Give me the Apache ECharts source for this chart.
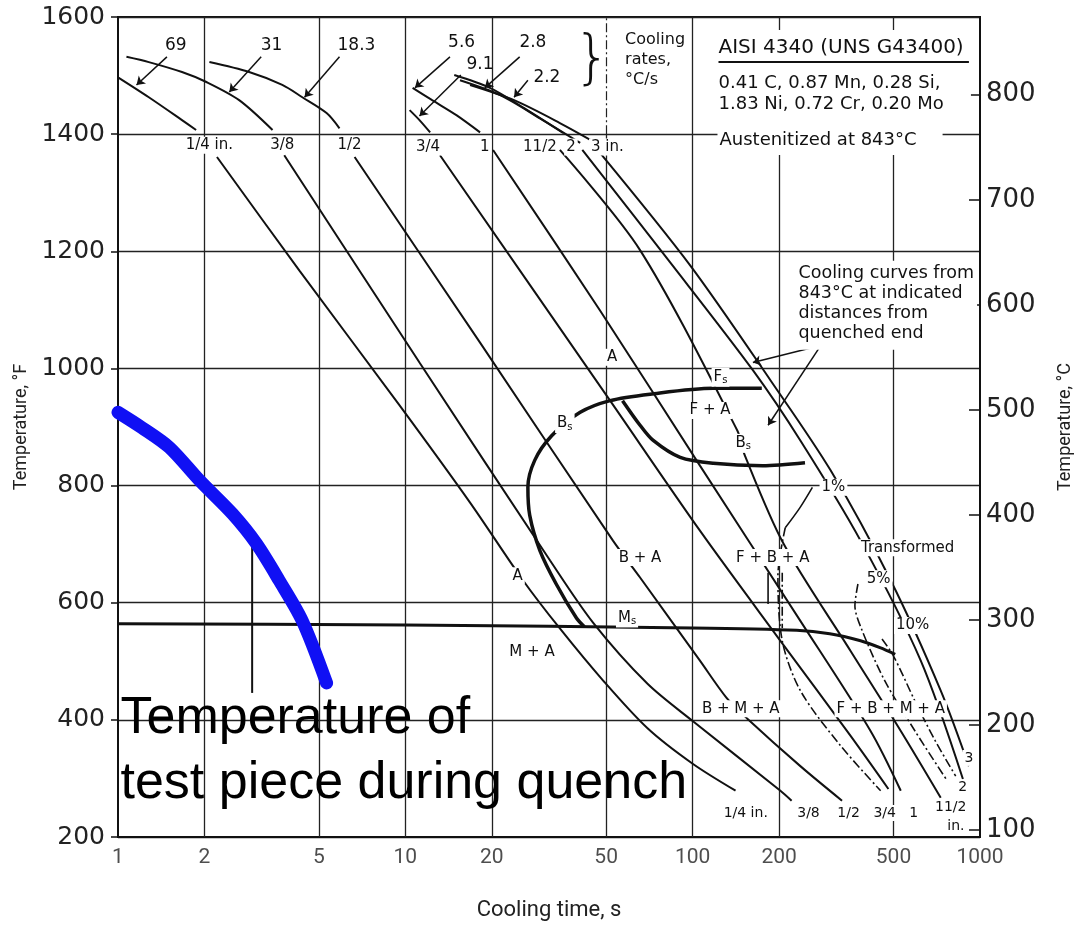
<!DOCTYPE html>
<html>
<head>
<meta charset="utf-8">
<script src="https://cdn.jsdelivr.net/npm/echarts@6.0.0/dist/echarts.min.js"></script>
<style>
html,body{margin:0;padding:0;background:#fff;}
#chart{width:1086px;height:930px;}
</style>
</head>
<body>
<div id="chart"></div>
<script>
// ===== Data (cooling time in s, temperature in °F) =====
const timeTicks = [1, 2, 5, 10, 20, 50, 100, 200, 500, 1000];
const timeGridLines = [2, 5, 10, 20, 100, 200, 500];
const celsiusTicks = [100, 200, 300, 400, 500, 600, 700, 800];

// Jominy cooling curves: upper piece (above the distance label) and lower piece
const cool_1_4_upper = [[1.0,1497],[1.28,1463],[1.67,1424],[1.87,1407]];
const cool_1_4_lower = [[2.21,1361],[4.28,1167],[9.55,937],[16.8,771],[25.7,638],[34.5,556],[48.8,467],[69.5,386],[100,325],[141,279]];
const cool_3_8_upper = [[1.07,1532],[1.28,1523],[1.67,1506],[2.03,1489],[2.64,1458],[3.45,1407]];
const cool_3_8_lower = [[3.79,1364],[11.2,1010],[31.9,672],[45,566],[69.5,462],[100,398],[202,279],[221,262]];
const cool_1_2_upper = [[2.08,1523],[2.86,1506],[3.73,1484],[4.38,1463],[5.32,1436],[5.90,1410]];
const cool_1_2_lower = [[6.66,1361],[18.2,1044],[52.8,706],[65.6,643],[106,501],[131,438],[155,402],[237,321],[331,262]];
const cool_3_4_upper = [[10.35,1441],[11.2,1424],[12.2,1403]];
const cool_3_4_lower = [[13.2,1364],[51.6,945],[106,723],[202,535],[354,373],[480,282]];
const cool_1_upper = [[10.6,1479],[12.4,1458],[15.1,1432],[18.2,1403]];
const cool_1_lower = [[20.2,1373],[47.6,1099],[106,834],[237,569],[416,381],[530,279]];
const cool_1h_upper = [[14.8,1501],[19.7,1479],[26.0,1444],[35.4,1402]];
const cool_1h_lower = [[34.5,1373],[65.6,1202],[143,894],[152,851],[207,701],[354,518],[530,381],[730,267]];
const cool_2_upper = [[15.5,1492],[21.3,1467],[29.4,1427],[40.6,1385]];
const cool_2_lower = [[41.3,1373],[83.5,1181],[162,997],[237,877],[384,706],[622,501],[872,299]];
const cool_3_upper = [[16.8,1484],[23.9,1458],[34.5,1419],[47.6,1381]];
const cool_3_lower = [[47.6,1368],[98,1176],[187,979],[302,826],[489,638],[730,450],[915,321]];

// Transformation boundaries
const fsBsCurve = [[174,966],[118,966],[71.1,956],[51.6,945],[40.6,925],[32.3,885],[28.2,843],[26.7,797],[27.1,749],[29.4,689],[33.5,632],[39.4,574],[42.0,559]];
const faLowerCurve = [[57,945],[65.6,903],[72.9,877],[90.5,848],[118,838],[175,834],[246,839]];
const msLine = [[1,564],[10,562],[100,557],[230,553],[300,547],[384,535],[451,523],[507,512]];
const onePctUpper = [[261,797],[236,762],[210,728]];
const onePctLower = [[210,728],[198,646],[205,535],[237,450],[327,356],[451,279]];
const fivePctCurve = [[376,632],[367,595],[387,555],[466,467],[594,381],[762,299]];
const tenPctCurve = [[456,538],[500,509],[594,432],[699,364],[823,304]];
const fbaPointerLeft = [[183,651],[183,598]];
const fbaPointerRight = [[205,651],[205,557]];

// Blue quench curve and its pointer
const quenchCurve = [[1.0,925],[1.21,899],[1.51,865],[1.92,809],[2.50,752],[3.03,701],[3.64,638],[4.38,569],[5.32,463]];
const quenchPointer = [[2.93,703],[2.93,446]];

// Labels: [time, temperature, text]
const rateLabels = [[1.59,1552,'69'],[3.42,1552,'31'],[6.76,1552,'18.3'],[15.7,1556,'5.6'],[27.8,1556,'2.8'],[18.2,1518,'9.1'],[31.1,1496,'2.2']];
const rateArrows = [[[1.48,1532],[1.16,1484]],[[3.15,1532],[2.44,1472]],[[5.90,1532],[4.46,1463]],[[14.3,1532],[10.8,1479]],[[15.6,1501],[11.2,1431]],[[25,1532],[18.9,1479]],[[26.7,1492],[23.9,1463]]];
const distLabelsTop = [[2.08,1381,'1/4 in.'],[3.73,1381,'3/8'],[6.39,1381,'1/2'],[12.0,1378,'3/4'],[18.9,1378,'1'],[29.4,1378,'11/2'],[37.7,1378,'2'],[50.5,1378,'3 in.']];
const distLabelsEnd = [[153,241,'1/4 in.'],[253,241,'3/8'],[349,241,'1/2'],[466,241,'3/4'],[588,241,'1'],[791,250,'11/2'],[824,219,'in.'],[871,284,'2'],[915,335,'3']];
const phaseLabels = [[52.4,1019,'A'],[35.9,906,'B{s|s}'],[125,985,'F{s|s}'],[115,928,'F + A'],[150,872,'B{s|s}'],[24.6,646,'A'],[65.6,677,'B + A'],[59.1,574,'M{s|s}'],[27.6,515,'M + A'],[147,419,'B + M + A'],[190,677,'F + B + A'],[489,419,'F + B + M + A'],[309,797,'1%'],[560,694,'Transformed'],[444,641,'5%'],[583,561,'10%']];
const braceLabel = [[44.7,1524,'}']];
const ratesNote = [[58.2,1578,'Cooling\nrates,\n°C/s']];
const steelTitle = [[123,1547,'AISI 4340 (UNS G43400)']];
const steelTitleUnderline = [[123,1523],[915,1523]];
const steelInfo = [[123,1487,'0.41 C, 0.87 Mn, 0.28 Si,'],[123,1451,'1.83 Ni, 0.72 Cr, 0.20 Mo']];
const austenitizing = [[122,1390,'Austenitized at 843°C']];
const curvesNote = [[228,1184,'Cooling curves from\n843°C at indicated\ndistances from\nquenched end']];
const curvesNoteArrows = [[[279,1039],[162,1010]],[[279,1039],[183,903]]];
const infoBox = [[110,1578],[930,1414]];
const quenchNote = [[1.02,347,'Temperature of\ntest piece during quench']];

// ===== Chart =====
const INK = '#111';
const SMALL = 'DejaVu Sans';

function curve(data, width, extra) {
  return Object.assign({
    type: 'line', data: data, symbol: 'none', smooth: 0.3, silent: true, z: 3,
    lineStyle: { color: INK, width: width || 2 }, clip: true
  }, extra || {});
}
function texts(items, style, z) {
  return {
    type: 'custom', coordinateSystem: 'cartesian2d', silent: true, z: z || 10, clip: false,
    data: items.map(d => [d[0], d[1]]),
    renderItem: function (params, api) {
      const p = api.coord([api.value(0), api.value(1)]);
      return {
        type: 'text', x: p[0], y: p[1], silent: true,
        style: Object.assign({
          text: items[params.dataIndex][2], fill: INK,
          fontFamily: SMALL, fontSize: 15, align: 'center', verticalAlign: 'middle'
        }, style)
      };
    }
  };
}
function arrows(list, z) {
  return {
    type: 'lines', coordinateSystem: 'cartesian2d', silent: true, z: z || 4,
    symbol: ['none', 'arrow'], symbolSize: 8,
    lineStyle: { color: INK, width: 1.5, opacity: 1 },
    data: list.map(c => ({ coords: c }))
  };
}

const whiteBg = { backgroundColor: '#fff', padding: [1, 2] };
const subRich = { s: { fontSize: 10, fontFamily: SMALL, fill: INK, padding: [7, 0, 0, 0] } };
const dashDot = [9, 3, 2, 3];
const gridStyle = { color: '#222', width: 1.3 };

const option = {
  animation: false,
  backgroundColor: '#fff',
  grid: { left: 118, right: 106, top: 17, bottom: 93, show: true, borderColor: INK, borderWidth: 2, backgroundColor: 'transparent' },
  xAxis: {
    type: 'log', logBase: 10, min: 1, max: 1000,
    axisLine: { lineStyle: { color: INK, width: 2 } },
    axisTick: { show: false }, axisLabel: { show: false }, splitLine: { show: false },
    name: 'Cooling time, s', nameLocation: 'middle', nameGap: 62,
    nameTextStyle: { fontFamily: 'Roboto', fontSize: 22, color: '#222' }
  },
  yAxis: [{
    type: 'value', min: 200, max: 1600, interval: 200, position: 'left',
    axisLine: { show: true, lineStyle: { color: INK, width: 2 } },
    axisTick: { show: true, length: 7, lineStyle: { color: INK, width: 1.5 } },
    axisLabel: { fontFamily: SMALL, fontSize: 25, color: '#222', margin: 13, formatter: v => String(v) },
    splitLine: { show: true, lineStyle: gridStyle },
    name: 'Temperature, °F', nameLocation: 'middle', nameGap: 84, nameRotate: 90,
    nameTextStyle: { fontFamily: 'Roboto', fontSize: 18, color: '#222' }
  }, {
    type: 'value', min: 93.3, max: 874, position: 'right',
    axisLine: { show: true, lineStyle: { color: INK, width: 2 } },
    axisTick: { show: true, inside: true, length: 11, customValues: celsiusTicks, lineStyle: { color: INK, width: 1.5 } },
    axisLabel: { customValues: celsiusTicks, fontFamily: SMALL, fontSize: 26, color: '#222', margin: 6,
      formatter: v => (Math.abs(v % 100) < 1e-6 ? String(v) : '') },
    splitLine: { show: false },
    name: 'Temperature, °C', nameLocation: 'middle', nameGap: 76, nameRotate: 90,
    nameTextStyle: { fontFamily: 'Roboto', fontSize: 18, color: '#222' }
  }],
  series: [
    // time tick labels + vertical grid lines + blank box behind the steel data
    {
      type: 'scatter', silent: true, z: 1, symbolSize: 1, itemStyle: { color: 'rgba(0,0,0,0)' },
      data: timeTicks.map(v => [v, 200]),
      label: { show: true, position: 'bottom', distance: 10, formatter: p => String(p.value[0]),
        fontFamily: 'Roboto', fontSize: 21, color: '#222' },
      markLine: { silent: true, z: 1, symbol: 'none', label: { show: false },
        lineStyle: Object.assign({ type: 'solid' }, gridStyle),
        data: timeGridLines.map(v => ({ xAxis: v })).concat([
          [{ coord: [50, 200] }, { coord: [50, 1400] }],
          [{ coord: [50, 1400] }, { coord: [50, 1600], lineStyle: { type: dashDot, width: 1.2 } }]
        ]) },
      markArea: { silent: true, z: 2, itemStyle: { color: '#fff' },
        data: [[{ coord: infoBox[0] }, { coord: infoBox[1] }]] }
    },
    curve(cool_1_4_upper), curve(cool_1_4_lower),
    curve(cool_3_8_upper), curve(cool_3_8_lower),
    curve(cool_1_2_upper), curve(cool_1_2_lower),
    curve(cool_3_4_upper), curve(cool_3_4_lower),
    curve(cool_1_upper), curve(cool_1_lower),
    curve(cool_1h_upper), curve(cool_1h_lower),
    curve(cool_2_upper), curve(cool_2_lower),
    curve(cool_3_upper), curve(cool_3_lower),
    curve(fsBsCurve, 3.5), curve(faLowerCurve, 3.5), curve(msLine, 3, { smooth: 0.2 }),
    curve(onePctUpper, 1.6),
    curve(onePctLower, 1.6, { lineStyle: { color: INK, width: 1.6, type: dashDot } }),
    curve(fivePctCurve, 1.6, { lineStyle: { color: INK, width: 1.6, type: dashDot } }),
    curve(tenPctCurve, 1.6, { lineStyle: { color: INK, width: 1.6, type: dashDot } }),
    curve(fbaPointerLeft, 1.6, { smooth: false }),
    curve(fbaPointerRight, 1.6, { smooth: false, lineStyle: { color: INK, width: 1.6, type: dashDot } }),
    curve(steelTitleUnderline, 2, { smooth: false, z: 11 }),
    arrows(rateArrows), arrows(curvesNoteArrows),
    curve(quenchPointer, 2, { smooth: false, z: 5 }),
    curve(quenchCurve, 13, { z: 6, lineStyle: { color: '#1010f4', width: 13, cap: 'round', join: 'round' } }),
    texts(rateLabels, { fontSize: 17 }),
    texts(braceLabel, { fontSize: 58, fontFamily: 'DejaVu Sans', fontWeight: 'lighter' }),
    texts(ratesNote, { align: 'left', verticalAlign: 'top', fontSize: 16, lineHeight: 20 }),
    texts(steelTitle, { align: 'left', fontSize: 20 }, 12),
    texts(steelInfo, { align: 'left', fontSize: 18 }, 12),
    texts(austenitizing, { align: 'left', fontSize: 18, backgroundColor: '#fff', padding: [6, 26, 6, 2] }, 12),
    texts(curvesNote, { align: 'left', verticalAlign: 'top', fontSize: 17.5, lineHeight: 20, backgroundColor: '#fff', padding: [3, 3, 6, 3] }, 12),
    texts(distLabelsTop, Object.assign({ fontSize: 15 }, whiteBg), 12),
    texts(distLabelsEnd, Object.assign({ fontSize: 14 }, whiteBg), 12),
    texts(phaseLabels, Object.assign({ fontSize: 15, rich: subRich }, whiteBg), 12),
    texts(quenchNote, { align: 'left', fontFamily: 'Liberation Sans', fontSize: 52, lineHeight: 65, fill: '#000' }, 20)
  ]
};

const chart = echarts.init(document.getElementById('chart'), null, { renderer: 'canvas' });
chart.setOption(option);
</script>
</body>
</html>
